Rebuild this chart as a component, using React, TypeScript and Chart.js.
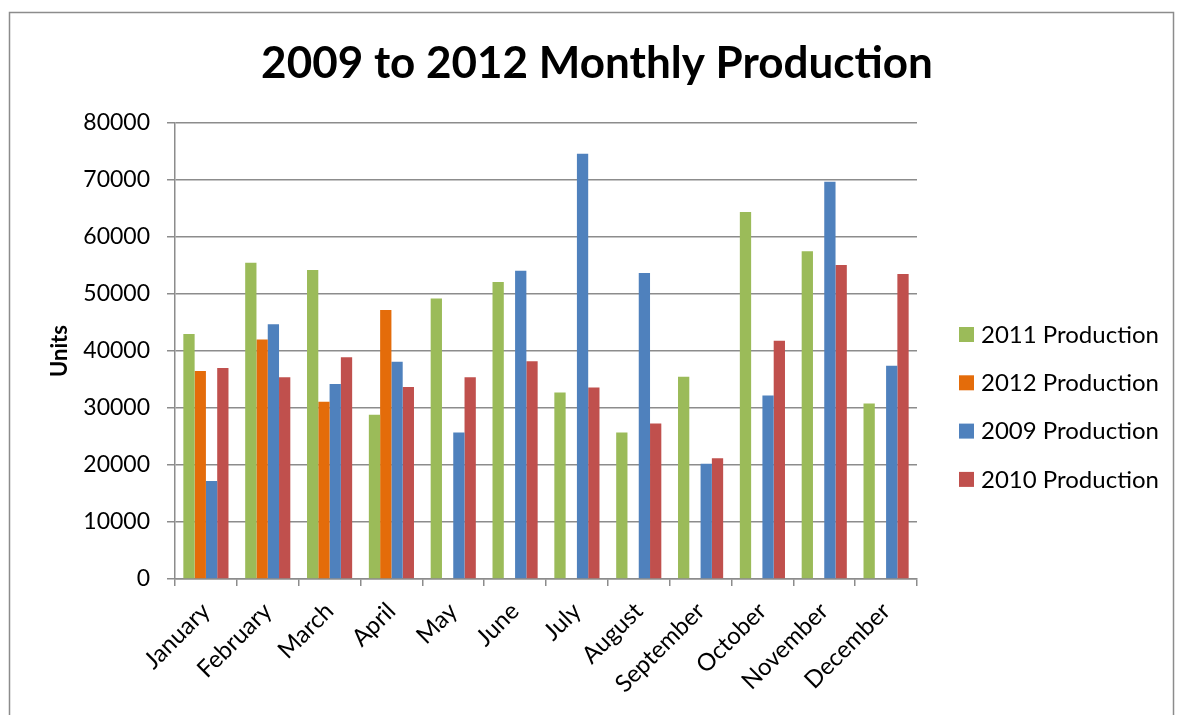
import React, { useEffect, useRef } from "react";
import { Chart, registerables } from "chart.js";

Chart.register(...registerables);

const months = ["January", "February", "March", "April", "May", "June", "July", "August", "September", "October", "November", "December"];
const seriesNames = ["2011 Production", "2012 Production", "2009 Production", "2010 Production"];
const prod2011 = [43000, 55500, 54200, 28800, 49200, 52100, 32700, 25700, 35500, 64400, 57500, 30800];
const prod2012 = [36500, 42000, 31100, 47200, null, null, null, null, null, null, null, null];
const prod2009 = [17200, 44700, 34200, 38100, 25700, 54100, 74600, 53700, 20200, 32200, 69700, 37400];
const prod2010 = [37000, 35400, 38900, 33700, 35400, 38200, 33600, 27300, 21200, 41800, 55100, 53500];
const colors = ["#9BBB59", "#E46C0A", "#4F81BD", "#C0504D"];
const titleText = "2009 to 2012 Monthly Production";
const yTitle = "Units";

const FONT = "Lato, 'Open Sans', sans-serif";

const frameTitleLegend = {
  id: "frameTitleLegend",
  beforeDraw(chart: any) {
    const ctx = chart.ctx;
    ctx.save();
    ctx.fillStyle = "#ffffff";
    ctx.fillRect(0, 0, chart.width, chart.height);
    ctx.restore();
  },
  afterDraw(chart: any) {
    const ctx = chart.ctx;
    ctx.save();
    ctx.strokeStyle = "#8c8c8c";
    ctx.lineWidth = 1.5;
    ctx.strokeRect(9.5, 12.5, 1164, 720);
    // title
    ctx.fillStyle = "#000000";
    ctx.font = "bold 44px " + FONT;
    ctx.textAlign = "center";
    ctx.textBaseline = "middle";
    ctx.fillText(titleText, 597, 64);
    // legend
    const x0 = chart.chartArea.right + 42;
    const yStart = 334;
    const step = 48.3;
    ctx.font = "24px " + FONT;
    ctx.textBaseline = "middle";
    ctx.textAlign = "left";
    chart.data.datasets.forEach((ds: any, i: number) => {
      const y = yStart + i * step;
      ctx.fillStyle = ds.backgroundColor;
      ctx.fillRect(x0, y - 7, 15, 15);
      ctx.fillStyle = "#000000";
      ctx.fillText(ds.label, x0 + 22, y + 1);
    });
    ctx.restore();
  },
};

export default function App() {
  const ref = useRef<HTMLCanvasElement>(null);
  useEffect(() => {
    if (!ref.current) return;
    const series = [prod2011, prod2012, prod2009, prod2010];
    const chart = new Chart(ref.current, {
      type: "bar",
      data: {
        labels: months,
        datasets: series.map((d, i) => ({
          label: seriesNames[i],
          data: d,
          backgroundColor: colors[i],
          borderWidth: 0,
          barPercentage: 1,
          categoryPercentage: 0.73,
        })),
      },
      options: {
        animation: false,
        responsive: false,
        layout: { padding: { left: 43, right: 262, top: 123, bottom: 0 } },
        plugins: {
          legend: { display: false },
          tooltip: { enabled: false },
          title: { display: false },
        },
        scales: {
          x: {
            offset: true,
            grid: { display: true, drawOnChartArea: false, drawTicks: true, tickLength: 7, color: "#8c8c8c", lineWidth: 1.5 },
            border: { display: true, color: "#8c8c8c", width: 1.5 },
            ticks: {
              color: "#000000",
              font: { family: FONT, size: 24 },
              minRotation: 45,
              maxRotation: 45,
              padding: 11,
              autoSkip: false,
            },
            afterFit: (scale: any) => {
              scale.height = 136;
            },
          },
          y: {
            min: 0,
            max: 80000,
            ticks: {
              stepSize: 10000,
              color: "#000000",
              font: { family: FONT, size: 23 },
              padding: 17,
              callback: (v: any) => String(v),
            },
            grid: { color: "#8c8c8c", lineWidth: 1.5, tickLength: 8, drawTicks: true },
            border: { display: true, color: "#8c8c8c", width: 1.5 },
            title: { display: true, text: yTitle, color: "#000000", font: { family: FONT, size: 22, weight: "bold" }, padding: { top: 4, bottom: 4 } },
            afterFit: (scale: any) => {
              scale.width = 132;
            },
          },
        },
      },
      plugins: [frameTitleLegend],
    });
    return () => chart.destroy();
  }, []);
  return (
    <div style={{ position: "fixed", left: 0, top: 0, width: 1179, height: 715, background: "#fff" }}>
      <canvas ref={ref} width={1179} height={715} style={{ display: "block" }} />
    </div>
  );
}
